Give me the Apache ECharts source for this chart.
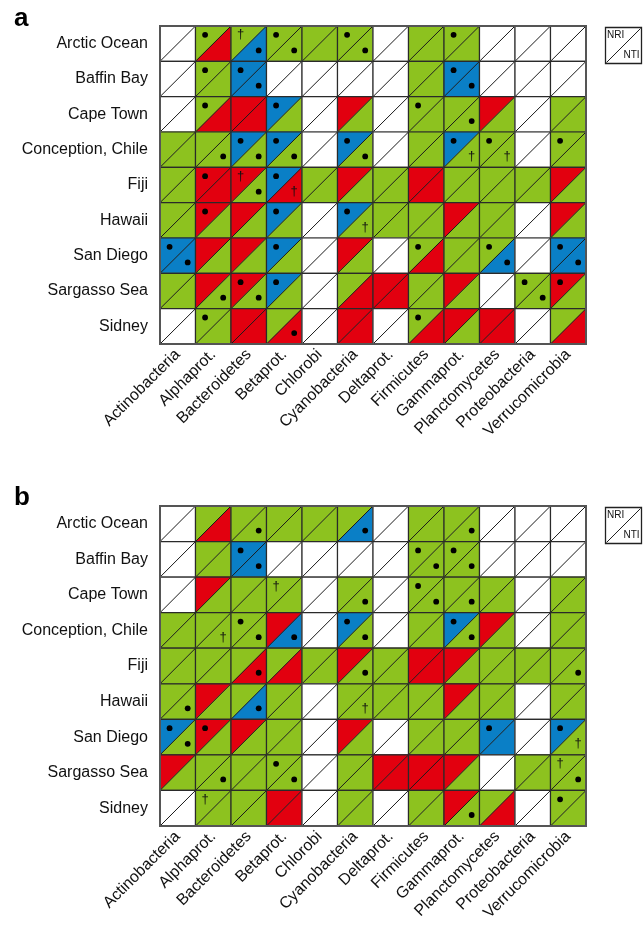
<!DOCTYPE html>
<html><head><meta charset="utf-8">
<script src="https://cdn.jsdelivr.net/npm/echarts@6/dist/echarts.min.js"></script>
<style>html,body{margin:0;padding:0;background:#fff}#c{width:644px;height:929px}</style>
</head><body><div id="c"></div>
<script>
const phyla = ["Actinobacteria","Alphaprot.","Bacteroidetes","Betaprot.","Chlorobi","Cyanobacteria","Deltaprot.","Firmicutes","Gammaprot.","Planctomycetes","Proteobacteria","Verrucomicrobia"];
const sites = ["Arctic Ocean","Baffin Bay","Cape Town","Conception, Chile","Fiji","Hawaii","San Diego","Sargasso Sea","Sidney"];
// Colour codes per cell: G green, R red, B blue, W white
// Upper-left triangle = NRI, lower-right triangle = NTI
const nriA = ["WGGGGGWGGWWW","WGBWWWWGBWWW","WGRBWRWGGRWG","GGBBWBWGBGWG","GRRBGRGRGGGR","GRRBWBGGRGWR","BRRBWRWGGGWB","GRRBWGRGRWGR","WGRGWRWGRRWG"];
const ntiA = ["WRBGGGWGGWWW","WGBWWWWGBWWW","WRRGWGWGGGWG","GGGGWGWGGGWG","GRGRGGGRGGGG","GGGGWGGGGGWG","BGGGWGWRGBWB","GGGGWRRGGWGG","WGRRWRWRGRWR"];
// Marks: o dot, t dagger, . none
const nriMarkA = [".oto.o..o...",".oo.....o...",".o.o...o....","..oo.o..oo.o",".oto........",".o.o.o......","o..o...o.o.o","..oo......oo",".o.....o...."];
const ntiMarkA = ["..oo.o......","..o.....o...","........o...",".ooo.o..tt..","..ot........",".....t......","o........o.o",".oo.......o.","...o........"];
const nriB = ["WGGGGGWGGWWW","WGBWWWWGGWWW","WRGGWGWGGGWG","GGGRWBWGBRWG","GGGGGRGRRGGG","GRGGWGGGRGWG","BRRGWRWGGBWB","RGGGWGRRRWGG","WGGRWGWGRGWG"];
const ntiB = ["WRGGGBWGGWWW","WGBWWWWGGWWW","WGGGWGWGGGWG","GGGBWGWGGGWG","GGRRGGGRGGGG","GGBGWGGGGGWG","GGGGWGWGGBWG","GGGGWGRRGWGG","WGGRWGWGGRWG"];
const nriMarkB = ["............","..o....oo...","...t...o....","..o..o..o...","............","............","oo.......o.o","...o.......t",".t.........o"];
const ntiMarkB = ["..o..o..o...","..o....oo...",".....o.oo...",".too.o..o...","..o..o.....o","o.o..t......","o..........t",".o.o.......o","........o..."];

const COL = {G:'#8dc21f', R:'#e2000f', B:'#0a7fc6', W:'#ffffff'};
const FONT = '"Liberation Sans", Arial, Helvetica, sans-serif';

function cells(nri, nti, mn, mt){
  const out = [];
  for (let r=0;r<sites.length;r++) for (let c=0;c<phyla.length;c++)
    out.push({value:[c,r], u:nri[r][c], l:nti[r][c], mu:mn[r][c], ml:mt[r][c]});
  return out;
}
const dataA = cells(nriA, ntiA, nriMarkA, ntiMarkA);
const dataB = cells(nriB, ntiB, nriMarkB, ntiMarkB);

function makeRender(data){
  return function(params, api){
    const d = data[params.dataIndex];
    const p = api.coord([api.value(0), api.value(1)]);
    const s = api.size([1,1]);
    const x0 = p[0]-s[0]/2, x1 = p[0]+s[0]/2, y0 = p[1]-s[1]/2, y1 = p[1]+s[1]/2;
    const w = s[0], h = s[1];
    const ch = [
      {type:'polygon', shape:{points:[[x0,y0],[x1,y0],[x0,y1]]}, style:{fill:COL[d.u], stroke:COL[d.u], lineWidth:0.5}},
      {type:'polygon', shape:{points:[[x1,y0],[x1,y1],[x0,y1]]}, style:{fill:COL[d.l], stroke:COL[d.l], lineWidth:0.5}},
      {type:'line', shape:{x1:x0,y1:y1,x2:x1,y2:y0}, style:{stroke:'#1a1a1a', lineWidth:1}},
      {type:'rect', shape:{x:x0,y:y0,width:w,height:h}, style:{fill:null, stroke:'#2a2a2a', lineWidth:1.2}}
    ];
    function mark(m, fx, fy){
      const mx = x0+fx*w, my = y0+fy*h;
      if (m==='o') ch.push({type:'circle', shape:{cx:mx, cy:my, r:2.9}, style:{fill:'#000'}});
      else if (m==='t') ch.push({type:'text', style:{x:mx, y:my, text:'†', fontSize:13, fontFamily:FONT, fill:'#111', align:'center', verticalAlign:'middle'}});
    }
    mark(d.mu, 0.27, 0.25);
    mark(d.ml, 0.78, 0.69);
    return {type:'group', children:ch};
  };
}

const G1 = {left:160, top:26, width:426, height:318};
const G2 = {left:160, top:506, width:426, height:320};

function xAx(i){ return {type:'category', gridIndex:i, data:phyla, axisLine:{show:false}, axisTick:{show:false}, splitLine:{show:false},
  axisLabel:{interval:0, rotate:45, fontSize:16, color:'#111', fontFamily:FONT, margin:8}}; }
function yAx(i){ return {type:'category', gridIndex:i, data:sites, inverse:true, axisLine:{show:false}, axisTick:{show:false}, splitLine:{show:false},
  axisLabel:{interval:0, fontSize:16, color:'#111', fontFamily:FONT, margin:12}}; }

function legendBox(top){
  return {type:'group', left:604, top:top, children:[
    {type:'rect', shape:{x:0,y:0,width:36,height:36}, style:{fill:'#fff', stroke:'#222', lineWidth:1.3}},
    {type:'line', shape:{x1:1,y1:35,x2:35,y2:1}, style:{stroke:'#222', lineWidth:1}},
    {type:'text', style:{x:1.5, y:3, text:'NRI', fontSize:10, fontFamily:FONT, fill:'#111'}},
    {type:'text', style:{x:18, y:23, text:'NTI', fontSize:10, fontFamily:FONT, fill:'#111'}}
  ]};
}

const chart = echarts.init(document.getElementById('c'), null, {renderer:'canvas'});
chart.setOption({
  animation:false,
  backgroundColor:'#fff',
  grid:[G1, G2],
  xAxis:[xAx(0), xAx(1)],
  yAxis:[yAx(0), yAx(1)],
  series:[
    {type:'custom', xAxisIndex:0, yAxisIndex:0, renderItem:makeRender(dataA), data:dataA.map(d=>d.value), clip:false},
    {type:'custom', xAxisIndex:1, yAxisIndex:1, renderItem:makeRender(dataB), data:dataB.map(d=>d.value), clip:false}
  ],
  graphic:[
    {type:'text', left:14, top:6, style:{text:'a', fontSize:26, fontWeight:'bold', fontFamily:FONT, fill:'#000'}},
    {type:'text', left:14, top:485, style:{text:'b', fontSize:26, fontWeight:'bold', fontFamily:FONT, fill:'#000'}},
    {type:'rect', z:100, shape:{x:G1.left, y:G1.top, width:G1.width, height:G1.height}, style:{fill:null, stroke:'#555', lineWidth:2}},
    {type:'rect', z:100, shape:{x:G2.left, y:G2.top, width:G2.width, height:G2.height}, style:{fill:null, stroke:'#555', lineWidth:2}},
    legendBox(26),
    legendBox(506)
  ]
});
</script>
</body></html>
